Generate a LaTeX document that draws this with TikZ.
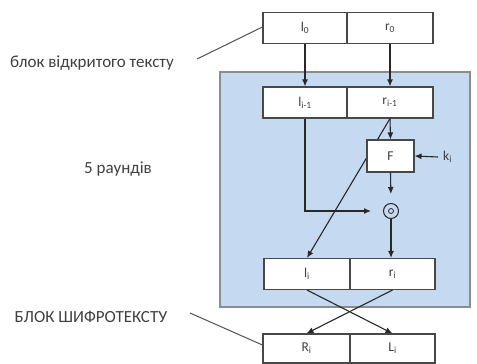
\documentclass[tikz,border=0pt]{standalone}
\usepackage{fontspec}
\setmainfont{Carlito}
\usetikzlibrary{arrows.meta,calc}
\definecolor{panelblue}{RGB}{197,217,241}
\definecolor{panelrim}{RGB}{140,140,140}
\definecolor{inkgray}{RGB}{64,64,64}
\definecolor{linedark}{RGB}{40,40,40}
\tikzset{
  cell/.style={draw=linedark!85!white, line width=1.1pt, fill=white, minimum height=31pt,
    inner sep=0pt, text=inkgray, font=\fontsize{13.5}{15}\selectfont},
  flow/.style={draw=linedark, line width=1.1pt, -{Latex[length=7pt,width=6pt]}},
  leader/.style={draw=linedark!80!white, line width=1pt},
  sidetext/.style={text=inkgray, font=\fontsize{17}{20}\selectfont, inner sep=0pt}
}
\begin{document}
\begin{tikzpicture}[x=1pt,y=-1pt]
\useasboundingbox (0,0) rectangle (477,364);

% round panel
\draw[fill=panelblue, draw=panelrim, line width=1.6pt] (220,72) rectangle (470,307);

% plaintext block
\node[cell, minimum width=84pt] (l0) at (305,28) {l\textsubscript{0}};
\node[cell, minimum width=86pt] (r0) at (390,28) {r\textsubscript{0}};

% inputs of the round
\node[cell, minimum width=84pt] (li1) at (305,102.5) {l\textsubscript{i-1}};
\node[cell, minimum width=86pt] (ri1) at (390,102.5) {r\textsubscript{i-1}};

% outputs of the round
\node[cell, minimum width=86pt] (li) at (307,274) {l\textsubscript{i}};
\node[cell, minimum width=85pt] (ri) at (392.5,274) {r\textsubscript{i}};

% ciphertext block
\node[cell, minimum width=87pt, minimum height=29pt] (Ri) at (306.5,348.5) {R\textsubscript{i}};
\node[cell, minimum width=85pt, minimum height=29pt] (Li) at (392.5,348.5) {L\textsubscript{i}};

% swap line drawn under the round function box
\draw[flow] (ri1.south) -- (li.north);

% round function
\node[cell, minimum width=47pt, minimum height=32pt] (F) at (390.5,156) {F};
\node[text=inkgray, font=\fontsize{13.5}{15}\selectfont, inner sep=0pt, anchor=west] (ki) at (443,157) {k\textsubscript{i}};
\coordinate (kstart) at (438,157);

% XOR
\node[circle, draw=linedark, line width=1pt, minimum size=15pt, inner sep=0pt] (xor) at (391,211) {};
\node[circle, draw=linedark, line width=0.8pt, minimum size=5pt, inner sep=0pt] (xdot) at (xor.center) {};

% connectors
\draw[flow] (l0.south) -- (li1.north);
\draw[flow] (r0.south) -- (ri1.north);
\draw[flow] (ri1.south) -- (F.north);
\draw[flow] (kstart) -- (F.east);
\draw[flow, shorten >=9pt] (F.south) -- (xor.north);
\draw[flow, shorten >=12pt] (li1.south) |- (xor.west);
\draw[flow] (xor.south) -- (xor.south |- ri.north);
\draw[flow] (li.south) -- (Li.north);
\draw[flow] (ri.south) -- (Ri.north);

% side labels
\node[sidetext] (ptext) at (92,63) {блок відкритого тексту};
\node[sidetext] (rounds) at (118,169) {5 раундів};
\node[sidetext] (ctext) at (91,317) {БЛОК ШИФРОТЕКСТУ};
\coordinate (pl) at (197,59);
\coordinate (cl) at (190,313);
\draw[leader] (pl) -- (l0.west |- 0,27);
\draw[leader] (cl) -- (Ri.west |- 0,345);
\end{tikzpicture}
\end{document}
